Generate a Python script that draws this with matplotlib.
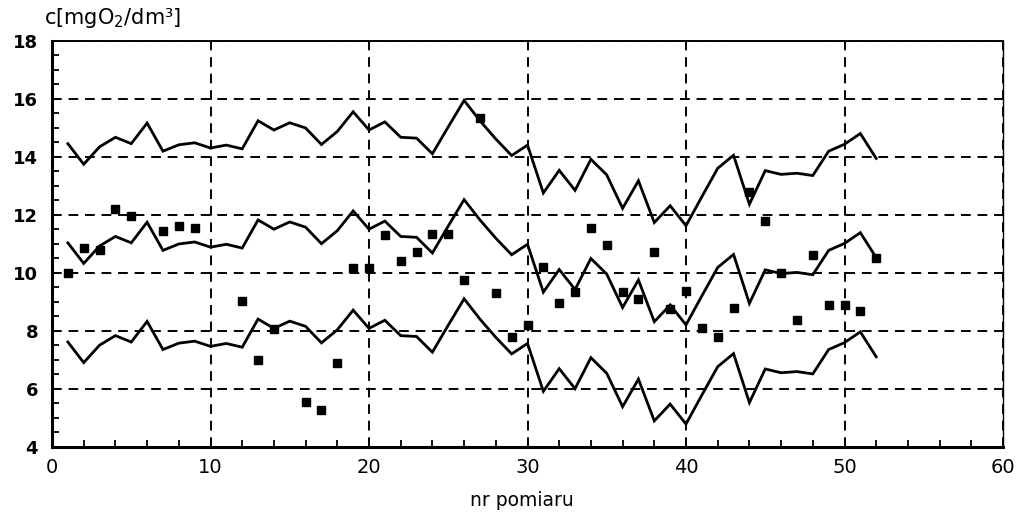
import matplotlib
matplotlib.use("Agg")
import matplotlib.pyplot as plt
from matplotlib.ticker import MultipleLocator

# measurement numbers for the lines
x_line = list(range(1, 53))

mean_line = [11.03, 10.32, 10.92, 11.25, 11.03, 11.74, 10.77, 10.99, 11.06, 10.88,
             10.98, 10.85, 11.82, 11.50, 11.75, 11.57, 11.00, 11.45, 12.13, 11.50,
             11.78, 11.25, 11.22, 10.68, 11.61, 12.52, 11.82, 11.19, 10.62, 10.98,
             9.33, 10.11, 9.42, 10.49, 9.95, 8.80, 9.75, 8.31, 8.89, 8.20,
             9.20, 10.18, 10.63, 8.94, 10.10, 9.97, 10.01, 9.93, 10.77, 11.01,
             11.38, 10.52]

upper_line = [14.45, 13.74, 14.34, 14.67, 14.45, 15.16, 14.19, 14.41, 14.48, 14.30,
              14.40, 14.27, 15.24, 14.92, 15.17, 14.99, 14.42, 14.87, 15.55, 14.92,
              15.20, 14.67, 14.64, 14.10, 15.03, 15.94, 15.24, 14.61, 14.04, 14.40,
              12.75, 13.53, 12.84, 13.91, 13.37, 12.22, 13.17, 11.73, 12.31, 11.62,
              12.62, 13.60, 14.05, 12.36, 13.52, 13.39, 13.43, 13.35, 14.19, 14.43,
              14.80, 13.94]

lower_line = [7.61, 6.90, 7.50, 7.83, 7.61, 8.32, 7.35, 7.57, 7.64, 7.46,
              7.56, 7.43, 8.40, 8.08, 8.33, 8.15, 7.58, 8.03, 8.71, 8.08,
              8.36, 7.83, 7.80, 7.26, 8.19, 9.10, 8.40, 7.77, 7.20, 7.56,
              5.91, 6.69, 6.00, 7.07, 6.53, 5.38, 6.33, 4.89, 5.47, 4.78,
              5.78, 6.76, 7.21, 5.52, 6.68, 6.55, 6.59, 6.51, 7.35, 7.59,
              7.96, 7.10]

# measured points
x_pts = [1, 2, 3, 4, 5, 7, 8, 9, 12, 13, 14,
         16, 17, 18, 19, 20, 21, 22, 23, 24, 25, 26, 27, 28, 29, 30,
         31, 32, 33, 34, 35, 36, 37, 38, 39, 40, 41, 42, 43, 44, 45,
         46, 47, 48, 49, 50, 51, 52]
y_pts = [10.0, 10.85, 10.8, 12.2, 11.95, 11.43, 11.6, 11.54, 9.03, 7.0, 8.05,
         5.54, 5.25, 6.88, 10.17, 10.17, 11.31, 10.4, 10.72, 11.34, 11.34, 9.74,
         15.35, 9.31, 7.8, 8.2, 10.18, 8.95, 9.33, 11.55, 10.97, 9.33, 9.1, 10.7,
         8.75, 9.38, 8.1, 7.8, 8.78, 12.8, 11.78, 9.98, 8.38, 10.6, 8.9, 8.9,
         8.68, 10.5]

x_ticks = [0, 10, 20, 30, 40, 50, 60]
y_ticks = [4, 6, 8, 10, 12, 14, 16, 18]

fig = plt.figure(figsize=(10.25, 5.22), dpi=100)
ax = fig.add_axes([52 / 1025, 1 - 446.7 / 522, (1003 - 52) / 1025, (446.7 - 40.7) / 522])

for yl in [upper_line, mean_line, lower_line]:
    ax.plot(x_line, yl, color="black", lw=2.0, zorder=3, solid_joinstyle="miter")

ax.plot(x_pts, y_pts, linestyle="none", marker="s", markersize=6,
        color="black", zorder=4)

ax.set_xlim(0, 60)
ax.set_ylim(4, 18)
ax.set_xticks(x_ticks)
ax.set_yticks(y_ticks)
ax.xaxis.set_minor_locator(MultipleLocator(2))
ax.yaxis.set_minor_locator(MultipleLocator(0.5))

ax.grid(True, which="major", color="black", lw=1.4, linestyle=(0, (5, 3.5)), zorder=1)

ax.tick_params(which="both", direction="in", color="black", width=1.3)
ax.tick_params(which="major", length=5)
ax.tick_params(which="minor", length=5)
ax.tick_params(axis="x", pad=8)
ax.tick_params(axis="y", pad=10)

for lab in ax.get_yticklabels():
    lab.set_fontfamily("DejaVu Sans")
    lab.set_fontweight("bold")
    lab.set_fontsize(13)
for lab in ax.get_xticklabels():
    lab.set_fontfamily("DejaVu Sans")
    lab.set_fontsize(14)

ax.spines["left"].set_linewidth(2.2)
ax.spines["bottom"].set_linewidth(2.2)
ax.spines["top"].set_linewidth(1.4)
ax.spines["right"].set_linewidth(1.0)

fig.text(44 / 1025, 1 - 18 / 522, "c[mgO$_2$/dm³]", fontsize=15,
         family="DejaVu Sans", va="center", ha="left")
fig.text(522 / 1025, 1 - 500 / 522, "nr pomiaru", fontsize=13.5,
         family="DejaVu Sans", va="center", ha="center")

fig.savefig("out.png", dpi=100)
